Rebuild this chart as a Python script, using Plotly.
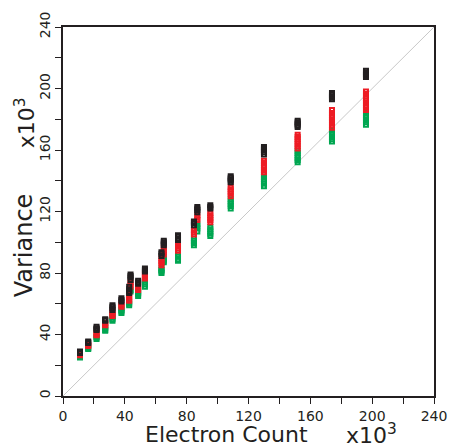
import plotly.graph_objects as go

# Electron count (x10^3) for each cluster of measurements
cluster_x = [11, 16.3, 21.7, 27.3, 32, 37.8, 42.8, 43.7, 48.6, 53, 63.7, 65.2,
             74.4, 84.7, 86.9, 95.3, 108.5, 130, 151.8, 174, 196]

# Variance (x10^3) values per cluster for each series
black_y = [[29, 28.5, 28], [35.5, 35, 34.5], [45, 44, 43.5, 43], [50, 49.5, 49],
           [59, 58, 57, 56], [63.5, 62.5, 61.5], [71, 69.5, 68, 67], [79, 78, 77, 75.5],
           [75, 74, 73], [83, 82, 81], [93.5, 92.5, 91], [101, 100, 99, 98],
           [104.5, 103.5, 102.5, 101.5], [113.5, 112.5, 111], [123, 122, 121, 119.5],
           [124, 123, 122], [143, 142, 141, 140, 139], [162, 161, 160, 158.5, 157],
           [179, 178, 177, 176, 175], [197, 196, 195, 194, 193],
           [211.5, 210.5, 209.5, 208.5, 207.5]]
red_y = [[27.5, 27, 26.5], [33.5, 33, 32.5], [41, 40, 39.5], [47.5, 46.5, 46],
         [55, 54, 53, 52], [60, 59, 58], [66, 64.5, 63, 62], [74, 72.5, 71],
         [71, 70, 69], [79.5, 78.5, 77.5, 76.5], [89.5, 88, 86.5, 85], [96.5, 95, 93.5, 92],
         [99, 97.5, 96, 94.5], [108, 106.5, 105], [117.5, 116, 114.5],
         [119, 117.5, 116, 114.5, 113], [136, 134.5, 133, 131.5, 130],
         [153, 151.5, 150, 148.5, 147, 145.5], [170, 168.5, 167, 165.5, 164, 162.5, 161],
         [186, 184, 182.5, 181, 179.5, 178, 176, 174.5],
         [198, 196.5, 195, 193.5, 192, 190.5, 189, 187.5, 186]]
green_y = [[26, 25.5, 25], [31.5, 31, 30.5], [38.5, 38, 37], [45, 44, 43, 42.5],
           [52, 51, 50, 49], [57, 56, 55, 54], [61, 60, 59], [69, 68],
           [68, 67, 66, 65], [75.5, 74, 72.5, 71], [83, 82, 81, 80], [90.5, 89, 88, 87],
           [92, 90.5, 89, 88], [102.5, 101, 99.5, 98], [112, 110.5, 109, 107],
           [110, 108.5, 107, 105.5, 104], [128, 126.5, 125, 123.5, 122],
           [144, 142.5, 141, 139.5, 138, 136.5], [159.5, 158, 156.5, 155, 153.5, 152],
           [173, 171.5, 170, 168.5, 167, 165.5], [184, 182.5, 181, 179.5, 178, 176.5]]

tick_vals = [0, 40, 80, 120, 160, 200, 240]
tick_text = ["0", "40", "80", "120", "160", "200", "240"]

series = [("green", green_y, "#00a651"), ("red", red_y, "#ed1c24"), ("black", black_y, "#231f20")]

fig = go.Figure()
for name, ys, color in series:
    xs_flat, ys_flat = [], []
    for cx, yl in zip(cluster_x, ys):
        for v in yl:
            xs_flat.append(cx)
            ys_flat.append(v)
    fig.add_trace(go.Scatter(
        x=xs_flat, y=ys_flat, mode="markers", name=name, showlegend=False,
        marker=dict(symbol="square-open", size=4, color=color, line=dict(width=2, color=color)),
    ))

fig.add_shape(type="line", x0=0, y0=0, x1=240, y1=240, xref="x", yref="y",
              line=dict(color="#c8c8c8", width=1), layer="below")

axis_common = dict(
    range=[0, 240], tickvals=tick_vals, ticktext=tick_text,
    showgrid=False, zeroline=False, showline=True, mirror=True,
    linecolor="#231f20", linewidth=1.5, ticks="outside", ticklen=6,
    tickcolor="#231f20", tickwidth=1,
    minor=dict(dtick=20, tick0=0, ticks="outside", ticklen=6, tickcolor="#231f20", tickwidth=1, showgrid=False),
    tickfont=dict(family="DejaVu Sans", size=14, color="#231f20"),
)
fig.update_xaxes(**axis_common)
fig.update_yaxes(**axis_common, tickangle=-90)

L, R, T, B = 63, 24, 24, 51
W, H = 459, 447
pw = W - L - R
ph = H - T - B

def px_x(p):
    return (p - L) / pw

def px_y(p):
    return (H - B - p) / ph

fig.add_annotation(text="Electron Count", xref="paper", yref="paper",
                   x=px_x(227), y=px_y(435), xanchor="center", yanchor="middle",
                   showarrow=False, font=dict(family="DejaVu Sans", size=22, color="#231f20"))
fig.add_annotation(text="x10<sup>3</sup>", xref="paper", yref="paper",
                   x=px_x(372), y=px_y(434), xanchor="center", yanchor="middle",
                   showarrow=False, font=dict(family="DejaVu Sans", size=22, color="#231f20"))
fig.add_annotation(text="Variance", xref="paper", yref="paper", textangle=-90,
                   x=px_x(24), y=px_y(244), xanchor="center", yanchor="middle",
                   showarrow=False, font=dict(family="DejaVu Sans", size=24, color="#231f20"))
fig.add_annotation(text="x10<sup>3</sup>", xref="paper", yref="paper", textangle=-90,
                   x=px_x(25), y=px_y(121), xanchor="center", yanchor="middle",
                   showarrow=False, font=dict(family="DejaVu Sans", size=22, color="#231f20"))

fig.update_layout(
    width=W, height=H, margin=dict(l=L, r=R, t=T, b=B),
    plot_bgcolor="white", paper_bgcolor="white",
)
fig.write_html("out.html")
